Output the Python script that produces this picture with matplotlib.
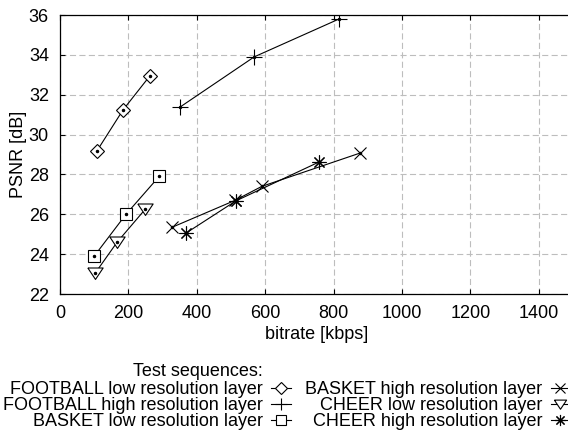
import numpy as np
import matplotlib.pyplot as plt

plt.rcParams['font.family'] = ['Liberation Sans', 'DejaVu Sans']

# data (bitrate kbps, PSNR dB)
football_low_x = [108, 184, 263]
football_low_y = [29.18, 31.23, 32.95]
football_high_x = [351, 568, 816]
football_high_y = [31.38, 33.9, 35.8]
basket_low_x = [100, 193, 290]
basket_low_y = [23.9, 26.0, 27.9]
basket_high_x = [328, 512, 590, 877]
basket_high_y = [25.35, 26.7, 27.4, 29.07]
cheer_low_x = [103, 167, 249]
cheer_low_y = [23.05, 24.6, 26.25]
cheer_high_x = [368, 514, 757]
cheer_high_y = [25.05, 26.67, 28.62]

labels = ["FOOTBALL low resolution layer", "FOOTBALL high resolution layer",
          "BASKET low resolution layer", "BASKET high resolution layer",
          "CHEER low resolution layer", "CHEER high resolution layer"]

# wide, flat down-triangle like the gnuplot one
tri = [(-1, 0.72), (1, 0.72), (0, -0.78), (-1, 0.72)]

series = [(football_low_x, football_low_y, 'D', 7.5),
          (football_high_x, football_high_y, '+', 11),
          (basket_low_x, basket_low_y, 's', 8.5),
          (basket_high_x, basket_high_y, 'x', 9),
          (cheer_low_x, cheer_low_y, tri, 11),
          (cheer_high_x, cheer_high_y, (8, 2, 0), 10)]

fig = plt.figure(figsize=(5.68, 4.3), dpi=100)
ax = fig.add_axes([60/568, 136/430, 513/568, 279/430])

handles = []
for (x, y, m, ms), lab in zip(series, labels):
    h, = ax.plot(x, y, color='black', lw=0.8, marker=m, markersize=ms,
                 markerfacecolor='white', markeredgecolor='black',
                 markeredgewidth=0.8, label=lab)
    ax.plot(x, y, ls='none', marker='o', markersize=1.5, color='black')
    handles.append(h)

ax.set_xlim(0, 1500)
ax.set_ylim(22, 36)
ax.set_xticks(np.arange(0, 1600, 200))
ax.set_yticks(np.arange(22, 37, 2))
ax.grid(True, color='#bdbdbd', linestyle=(0, (5.5, 3)), linewidth=0.8)
ax.set_axisbelow(True)
ax.tick_params(direction='in', length=3.5, top=True, right=True,
               labelsize=13, pad=8, width=0.8)
for s in ax.spines.values():
    s.set_linewidth(0.9)

ax.set_xlabel("bitrate [kbps]", fontsize=13, labelpad=3)
ax.set_ylabel("PSNR [dB]", fontsize=13, labelpad=1)

fig.text(263/568, 1 - 376/430, "Test sequences:", ha='right', va='baseline',
         fontsize=13)
fig.legend(handles=handles, ncol=2, markerfirst=False, frameon=False,
           fontsize=13, handlelength=1.1, handletextpad=0.45,
           columnspacing=0.8, labelspacing=-0.06, markerscale=0.8,
           loc='upper left', bbox_to_anchor=(3/568, 1 - 381/430),
           borderpad=0, borderaxespad=0)

fig.savefig("out.png", dpi=100)
